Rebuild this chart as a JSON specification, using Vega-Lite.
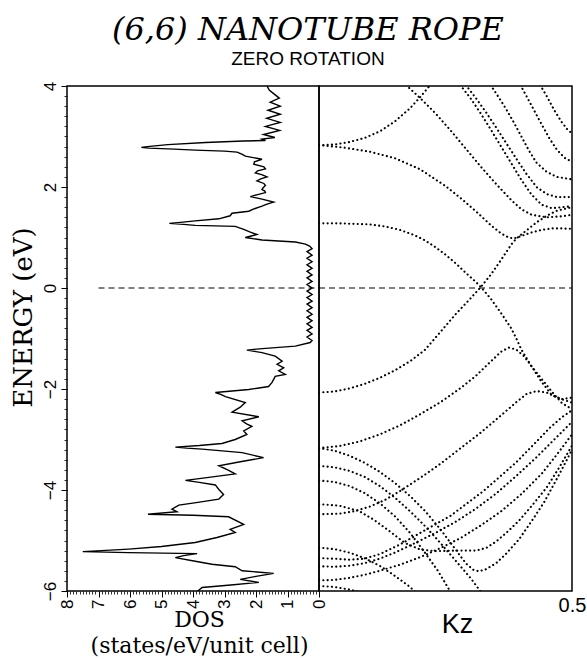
{
  "$schema": "https://vega.github.io/schema/vega-lite/v6.json",
  "background": "white",
  "padding": {"left": 9, "top": 13, "right": 4, "bottom": 2},
  "bounds": "flush",
  "spacing": 0,
  "title": {
    "text": "(6,6) NANOTUBE ROPE",
    "subtitle": "ZERO ROTATION\u00a0\u00a0\u00a0\u00a0\u00a0\u00a0",
    "font": "DejaVu Serif",
    "fontStyle": "italic",
    "fontWeight": "normal",
    "fontSize": 32,
    "color": "black",
    "subtitleFont": "Liberation Sans",
    "subtitleFontSize": 19,
    "subtitleColor": "black",
    "subtitlePadding": 3,
    "anchor": "middle",
    "dx": 10,
    "offset": 11
  },
  "config": {
    "view": {"stroke": "black", "strokeWidth": 1.5},
    "axis": {"grid": false, "domain": false, "tickColor": "black", "labelColor": "black", "titleColor": "black"}
  },
  "datasets": {
    "dos": [
      {"e":4.00,"d":1.65},{"e":3.92,"d":1.58},{"e":3.84,"d":1.42},{"e":3.76,"d":1.26},{"e":3.68,"d":1.55},{"e":3.60,"d":1.23},{"e":3.52,"d":1.62},{"e":3.44,"d":1.23},{"e":3.36,"d":1.66},{"e":3.28,"d":1.23},{"e":3.20,"d":1.70},{"e":3.12,"d":1.25},{"e":3.04,"d":1.76},{"e":2.98,"d":1.40},{"e":2.95,"d":1.81},{"e":2.92,"d":1.70},{"e":2.91,"d":2.4},{"e":2.88,"d":3.6},{"e":2.84,"d":4.8},{"e":2.80,"d":5.45},{"e":2.785,"d":5.64},{"e":2.77,"d":5.4},{"e":2.75,"d":4.6},{"e":2.73,"d":3.93},{"e":2.71,"d":3.0},{"e":2.69,"d":2.6},{"e":2.65,"d":2.45},{"e":2.61,"d":2.34},{"e":2.55,"d":1.81},{"e":2.50,"d":2.05},{"e":2.45,"d":2.07},{"e":2.40,"d":1.75},{"e":2.36,"d":1.70},{"e":2.32,"d":1.95},{"e":2.28,"d":2.02},{"e":2.24,"d":1.8},{"e":2.20,"d":1.65},{"e":2.16,"d":1.85},{"e":2.12,"d":1.97},{"e":2.07,"d":1.75},{"e":2.03,"d":1.70},{"e":1.98,"d":1.78},{"e":1.95,"d":1.81},{"e":1.92,"d":1.72},{"e":1.89,"d":1.70},{"e":1.85,"d":1.95},{"e":1.81,"d":2.18},{"e":1.78,"d":1.95},{"e":1.76,"d":1.81},{"e":1.70,"d":1.44},{"e":1.66,"d":1.65},{"e":1.62,"d":1.81},{"e":1.57,"d":2.05},{"e":1.52,"d":2.23},{"e":1.48,"d":2.76},{"e":1.43,"d":2.82},{"e":1.37,"d":3.18},{"e":1.33,"d":3.93},{"e":1.30,"d":4.4},{"e":1.28,"d":4.75},{"e":1.26,"d":4.3},{"e":1.24,"d":3.93},{"e":1.22,"d":2.66},{"e":1.16,"d":2.39},{"e":1.11,"d":2.2},{"e":1.06,"d":1.97},{"e":1.03,"d":2.15},{"e":1.00,"d":2.34},{"e":0.95,"d":1.81},{"e":0.91,"d":0.75},{"e":0.87,"d":0.43},
      {"e":0.83,"d":0.30},{"e":0.78,"d":0.22},{"e":0.72,"d":0.38},{"e":0.65,"d":0.22},{"e":0.59,"d":0.38},{"e":0.52,"d":0.22},{"e":0.46,"d":0.38},{"e":0.39,"d":0.22},{"e":0.33,"d":0.38},{"e":0.26,"d":0.22},{"e":0.20,"d":0.38},{"e":0.13,"d":0.22},{"e":0.07,"d":0.38},{"e":0.00,"d":0.22},{"e":-0.06,"d":0.38},{"e":-0.13,"d":0.22},{"e":-0.19,"d":0.38},{"e":-0.26,"d":0.22},{"e":-0.32,"d":0.38},{"e":-0.39,"d":0.22},{"e":-0.45,"d":0.38},{"e":-0.52,"d":0.22},{"e":-0.58,"d":0.38},{"e":-0.65,"d":0.22},{"e":-0.71,"d":0.38},{"e":-0.78,"d":0.22},{"e":-0.84,"d":0.38},{"e":-0.91,"d":0.22},{"e":-0.97,"d":0.38},{"e":-1.04,"d":0.22},{"e":-1.08,"d":0.28},
      {"e":-1.15,"d":0.75},{"e":-1.20,"d":1.8},{"e":-1.23,"d":2.29},{"e":-1.26,"d":2.0},{"e":-1.28,"d":1.81},{"e":-1.35,"d":1.39},{"e":-1.45,"d":1.17},{"e":-1.51,"d":1.33},{"e":-1.58,"d":1.12},{"e":-1.64,"d":1.28},{"e":-1.71,"d":1.07},{"e":-1.75,"d":1.39},{"e":-1.87,"d":1.49},{"e":-1.95,"d":1.60},{"e":-2.01,"d":2.23},{"e":-2.07,"d":3.29},{"e":-2.11,"d":3.1},{"e":-2.15,"d":2.97},{"e":-2.27,"d":2.34},{"e":-2.36,"d":2.5},{"e":-2.46,"d":2.76},{"e":-2.55,"d":1.91},{"e":-2.63,"d":2.44},{"e":-2.69,"d":2.3},{"e":-2.74,"d":2.13},{"e":-2.83,"d":2.39},{"e":-2.90,"d":2.29},{"e":-3.00,"d":2.66},{"e":-3.08,"d":3.08},{"e":-3.12,"d":3.8},{"e":-3.15,"d":4.56},{"e":-3.17,"d":4.2},{"e":-3.19,"d":3.71},{"e":-3.26,"d":2.44},{"e":-3.36,"d":1.76},{"e":-3.44,"d":2.5},{"e":-3.52,"d":3.18},{"e":-3.60,"d":2.9},{"e":-3.68,"d":2.66},{"e":-3.75,"d":3.5},{"e":-3.81,"d":4.24},{"e":-3.85,"d":3.8},{"e":-3.90,"d":3.29},{"e":-3.99,"d":3.18},{"e":-4.09,"d":3.03},{"e":-4.18,"d":3.18},{"e":-4.25,"d":3.9},{"e":-4.30,"d":4.45},{"e":-4.38,"d":4.67},{"e":-4.43,"d":4.51},{"e":-4.48,"d":5.43},{"e":-4.50,"d":4.0},{"e":-4.53,"d":2.87},{"e":-4.68,"d":2.39},{"e":-4.78,"d":2.82},{"e":-4.84,"d":2.66},{"e":-4.94,"d":3.24},{"e":-5.04,"d":3.93},{"e":-5.12,"d":5.0},{"e":-5.17,"d":6.04},{"e":-5.22,"d":7.50},{"e":-5.24,"d":6.04},{"e":-5.26,"d":3.87},{"e":-5.30,"d":4.3},{"e":-5.34,"d":4.56},{"e":-5.41,"d":3.93},{"e":-5.47,"d":3.40},{"e":-5.52,"d":2.66},{"e":-5.60,"d":2.44},{"e":-5.65,"d":1.44},{"e":-5.71,"d":2.0},{"e":-5.77,"d":2.50},{"e":-5.83,"d":1.91},{"e":-5.88,"d":2.8},{"e":-5.93,"d":3.71},{"e":-6.0,"d":3.85}
    ],
    "bands": [
      {"b":"U1","k":0,"e":2.83},{"b":"U1","k":0.03,"e":2.84},{"b":"U1","k":0.06,"e":2.89},{"b":"U1","k":0.09,"e":2.97},{"b":"U1","k":0.12,"e":3.1},{"b":"U1","k":0.15,"e":3.3},{"b":"U1","k":0.18,"e":3.56},{"b":"U1","k":0.2,"e":3.78},{"b":"U1","k":0.22,"e":4.02},
      {"b":"D1","k":0,"e":2.83},{"b":"D1","k":0.05,"e":2.78},{"b":"D1","k":0.1,"e":2.7},{"b":"D1","k":0.15,"e":2.57},{"b":"D1","k":0.2,"e":2.35},{"b":"D1","k":0.25,"e":2.02},{"b":"D1","k":0.28,"e":1.78},{"b":"D1","k":0.31,"e":1.52},{"b":"D1","k":0.34,"e":1.24},{"b":"D1","k":0.36,"e":1.08},{"b":"D1","k":0.375,"e":1.0},{"b":"D1","k":0.385,"e":0.98},{"b":"D1","k":0.4,"e":1.03},{"b":"D1","k":0.42,"e":1.1},{"b":"D1","k":0.44,"e":1.15},{"b":"D1","k":0.46,"e":1.18},{"b":"D1","k":0.48,"e":1.18},{"b":"D1","k":0.5,"e":1.17},
      {"b":"F1","k":0,"e":1.28},{"b":"F1","k":0.04,"e":1.28},{"b":"F1","k":0.07,"e":1.27},{"b":"F1","k":0.1,"e":1.26},{"b":"F1","k":0.13,"e":1.22},{"b":"F1","k":0.16,"e":1.15},{"b":"F1","k":0.19,"e":1.04},{"b":"F1","k":0.21,"e":0.94},{"b":"F1","k":0.23,"e":0.81},{"b":"F1","k":0.25,"e":0.66},{"b":"F1","k":0.27,"e":0.49},{"b":"F1","k":0.29,"e":0.3},{"b":"F1","k":0.31,"e":0.12},{"b":"F1","k":0.32,"e":0.02},{"b":"F1","k":0.34,"e":-0.22},{"b":"F1","k":0.36,"e":-0.5},{"b":"F1","k":0.38,"e":-0.8},{"b":"F1","k":0.39,"e":-1.0},{"b":"F1","k":0.4,"e":-1.22},{"b":"F1","k":0.42,"e":-1.55},{"b":"F1","k":0.44,"e":-1.86},{"b":"F1","k":0.46,"e":-2.12},{"b":"F1","k":0.48,"e":-2.2},{"b":"F1","k":0.5,"e":-2.17},
      {"b":"L1","k":0,"e":-2.07},{"b":"L1","k":0.03,"e":-2.05},{"b":"L1","k":0.06,"e":-1.99},{"b":"L1","k":0.09,"e":-1.9},{"b":"L1","k":0.12,"e":-1.78},{"b":"L1","k":0.15,"e":-1.63},{"b":"L1","k":0.18,"e":-1.45},{"b":"L1","k":0.21,"e":-1.22},{"b":"L1","k":0.24,"e":-0.87},{"b":"L1","k":0.27,"e":-0.52},{"b":"L1","k":0.3,"e":-0.2},{"b":"L1","k":0.32,"e":0.02},{"b":"L1","k":0.34,"e":0.27},{"b":"L1","k":0.36,"e":0.56},{"b":"L1","k":0.38,"e":0.86},{"b":"L1","k":0.39,"e":0.98},{"b":"L1","k":0.41,"e":1.14},{"b":"L1","k":0.43,"e":1.3},{"b":"L1","k":0.45,"e":1.43},{"b":"L1","k":0.47,"e":1.53},{"b":"L1","k":0.5,"e":1.6},
      {"b":"S1","k":0.172,"e":4.02},{"b":"S1","k":0.2,"e":3.76},{"b":"S1","k":0.23,"e":3.46},{"b":"S1","k":0.26,"e":3.12},{"b":"S1","k":0.29,"e":2.76},{"b":"S1","k":0.32,"e":2.4},{"b":"S1","k":0.35,"e":2.06},{"b":"S1","k":0.38,"e":1.74},{"b":"S1","k":0.4,"e":1.56},{"b":"S1","k":0.42,"e":1.45},{"b":"S1","k":0.45,"e":1.4},{"b":"S1","k":0.48,"e":1.42},{"b":"S1","k":0.5,"e":1.45},
      {"b":"S2a","k":0.279,"e":4.02},{"b":"S2a","k":0.3,"e":3.75},{"b":"S2a","k":0.32,"e":3.45},{"b":"S2a","k":0.34,"e":3.13},{"b":"S2a","k":0.36,"e":2.8},{"b":"S2a","k":0.38,"e":2.47},{"b":"S2a","k":0.4,"e":2.14},{"b":"S2a","k":0.42,"e":1.85},{"b":"S2a","k":0.44,"e":1.65},{"b":"S2a","k":0.46,"e":1.58},{"b":"S2a","k":0.48,"e":1.6},{"b":"S2a","k":0.5,"e":1.62},
      {"b":"S2b","k":0.29,"e":4.02},{"b":"S2b","k":0.31,"e":3.76},{"b":"S2b","k":0.33,"e":3.48},{"b":"S2b","k":0.35,"e":3.18},{"b":"S2b","k":0.37,"e":2.87},{"b":"S2b","k":0.39,"e":2.56},{"b":"S2b","k":0.41,"e":2.26},{"b":"S2b","k":0.43,"e":2.0},{"b":"S2b","k":0.45,"e":1.86},{"b":"S2b","k":0.47,"e":1.8},{"b":"S2b","k":0.5,"e":1.8},
      {"b":"S3","k":0.339,"e":4.02},{"b":"S3","k":0.355,"e":3.78},{"b":"S3","k":0.37,"e":3.54},{"b":"S3","k":0.385,"e":3.28},{"b":"S3","k":0.4,"e":3.0},{"b":"S3","k":0.415,"e":2.72},{"b":"S3","k":0.43,"e":2.48},{"b":"S3","k":0.45,"e":2.3},{"b":"S3","k":0.47,"e":2.2},{"b":"S3","k":0.5,"e":2.15},
      {"b":"S4","k":0.398,"e":4.02},{"b":"S4","k":0.41,"e":3.8},{"b":"S4","k":0.425,"e":3.52},{"b":"S4","k":0.44,"e":3.24},{"b":"S4","k":0.455,"e":2.97},{"b":"S4","k":0.47,"e":2.74},{"b":"S4","k":0.485,"e":2.58},{"b":"S4","k":0.5,"e":2.5},
      {"b":"S5","k":0.437,"e":4.02},{"b":"S5","k":0.45,"e":3.8},{"b":"S5","k":0.465,"e":3.52},{"b":"S5","k":0.48,"e":3.28},{"b":"S5","k":0.49,"e":3.15},{"b":"S5","k":0.5,"e":3.06},
      {"b":"L2","k":0,"e":-3.17},{"b":"L2","k":0.04,"e":-3.13},{"b":"L2","k":0.08,"e":-3.04},{"b":"L2","k":0.12,"e":-2.9},{"b":"L2","k":0.16,"e":-2.72},{"b":"L2","k":0.2,"e":-2.5},{"b":"L2","k":0.24,"e":-2.26},{"b":"L2","k":0.28,"e":-1.98},{"b":"L2","k":0.31,"e":-1.74},{"b":"L2","k":0.34,"e":-1.45},{"b":"L2","k":0.36,"e":-1.26},{"b":"L2","k":0.375,"e":-1.18},{"b":"L2","k":0.39,"e":-1.22},{"b":"L2","k":0.405,"e":-1.35},{"b":"L2","k":0.42,"e":-1.55},{"b":"L2","k":0.44,"e":-1.8},{"b":"L2","k":0.46,"e":-2.05},{"b":"L2","k":0.48,"e":-2.28},{"b":"L2","k":0.5,"e":-2.4},
      {"b":"L3","k":0,"e":-4.48},{"b":"L3","k":0.04,"e":-4.47},{"b":"L3","k":0.07,"e":-4.42},{"b":"L3","k":0.1,"e":-4.33},{"b":"L3","k":0.13,"e":-4.2},{"b":"L3","k":0.16,"e":-4.02},{"b":"L3","k":0.2,"e":-3.76},{"b":"L3","k":0.24,"e":-3.48},{"b":"L3","k":0.28,"e":-3.17},{"b":"L3","k":0.32,"e":-2.86},{"b":"L3","k":0.36,"e":-2.52},{"b":"L3","k":0.39,"e":-2.26},{"b":"L3","k":0.41,"e":-2.1},{"b":"L3","k":0.43,"e":-2.04},{"b":"L3","k":0.45,"e":-2.07},{"b":"L3","k":0.47,"e":-2.17},{"b":"L3","k":0.5,"e":-2.27},
      {"b":"L4","k":0,"e":-3.17},{"b":"L4","k":0.03,"e":-3.22},{"b":"L4","k":0.06,"e":-3.32},{"b":"L4","k":0.09,"e":-3.46},{"b":"L4","k":0.12,"e":-3.64},{"b":"L4","k":0.15,"e":-3.86},{"b":"L4","k":0.18,"e":-4.12},{"b":"L4","k":0.21,"e":-4.42},{"b":"L4","k":0.24,"e":-4.78},{"b":"L4","k":0.27,"e":-5.18},{"b":"L4","k":0.29,"e":-5.45},{"b":"L4","k":0.305,"e":-5.58},{"b":"L4","k":0.316,"e":-5.61},{"b":"L4","k":0.33,"e":-5.57},{"b":"L4","k":0.35,"e":-5.45},{"b":"L4","k":0.37,"e":-5.26},{"b":"L4","k":0.395,"e":-4.98},{"b":"L4","k":0.42,"e":-4.62},{"b":"L4","k":0.445,"e":-4.24},{"b":"L4","k":0.47,"e":-3.78},{"b":"L4","k":0.49,"e":-3.4},{"b":"L4","k":0.5,"e":-3.2},
      {"b":"L6","k":0,"e":-3.52},{"b":"L6","k":0.03,"e":-3.55},{"b":"L6","k":0.06,"e":-3.62},{"b":"L6","k":0.09,"e":-3.74},{"b":"L6","k":0.12,"e":-3.92},{"b":"L6","k":0.15,"e":-4.15},{"b":"L6","k":0.18,"e":-4.42},{"b":"L6","k":0.21,"e":-4.72},{"b":"L6","k":0.24,"e":-5.05},{"b":"L6","k":0.27,"e":-5.4},{"b":"L6","k":0.3,"e":-5.75},{"b":"L6","k":0.32,"e":-6.02},
      {"b":"L7","k":0,"e":-3.81},{"b":"L7","k":0.03,"e":-3.84},{"b":"L7","k":0.06,"e":-3.92},{"b":"L7","k":0.09,"e":-4.06},{"b":"L7","k":0.12,"e":-4.26},{"b":"L7","k":0.15,"e":-4.52},{"b":"L7","k":0.18,"e":-4.85},{"b":"L7","k":0.21,"e":-5.25},{"b":"L7","k":0.235,"e":-5.6},{"b":"L7","k":0.26,"e":-6.02},
      {"b":"L8","k":0,"e":-4.28},{"b":"L8","k":0.04,"e":-4.31},{"b":"L8","k":0.08,"e":-4.42},{"b":"L8","k":0.11,"e":-4.6},{"b":"L8","k":0.14,"e":-4.82},{"b":"L8","k":0.17,"e":-5.05},{"b":"L8","k":0.2,"e":-5.18},{"b":"L8","k":0.23,"e":-5.21},{"b":"L8","k":0.27,"e":-5.2},{"b":"L8","k":0.31,"e":-5.2},{"b":"L8","k":0.33,"e":-5.15},{"b":"L8","k":0.35,"e":-5.02},{"b":"L8","k":0.37,"e":-4.85},{"b":"L8","k":0.395,"e":-4.61},{"b":"L8","k":0.42,"e":-4.32},{"b":"L8","k":0.45,"e":-3.95},{"b":"L8","k":0.475,"e":-3.55},{"b":"L8","k":0.5,"e":-3.12},
      {"b":"L9","k":0,"e":-5.14},{"b":"L9","k":0.03,"e":-5.17},{"b":"L9","k":0.06,"e":-5.24},{"b":"L9","k":0.09,"e":-5.35},{"b":"L9","k":0.12,"e":-5.5},{"b":"L9","k":0.15,"e":-5.7},{"b":"L9","k":0.18,"e":-5.92},{"b":"L9","k":0.19,"e":-6.02},
      {"b":"L10","k":0,"e":-5.35},{"b":"L10","k":0.03,"e":-5.36},{"b":"L10","k":0.06,"e":-5.38},{"b":"L10","k":0.09,"e":-5.36},{"b":"L10","k":0.12,"e":-5.27},{"b":"L10","k":0.16,"e":-5.08},{"b":"L10","k":0.2,"e":-4.85},{"b":"L10","k":0.26,"e":-4.51},{"b":"L10","k":0.325,"e":-4.02},{"b":"L10","k":0.39,"e":-3.45},{"b":"L10","k":0.43,"e":-3.04},{"b":"L10","k":0.457,"e":-2.76},{"b":"L10","k":0.48,"e":-2.56},{"b":"L10","k":0.5,"e":-2.42},
      {"b":"L11","k":0,"e":-5.51},{"b":"L11","k":0.03,"e":-5.52},{"b":"L11","k":0.06,"e":-5.5},{"b":"L11","k":0.09,"e":-5.45},{"b":"L11","k":0.12,"e":-5.36},{"b":"L11","k":0.15,"e":-5.24},{"b":"L11","k":0.19,"e":-5.05},{"b":"L11","k":0.23,"e":-4.85},{"b":"L11","k":0.27,"e":-4.63},{"b":"L11","k":0.31,"e":-4.37},{"b":"L11","k":0.35,"e":-4.07},{"b":"L11","k":0.39,"e":-3.72},{"b":"L11","k":0.43,"e":-3.35},{"b":"L11","k":0.46,"e":-3.05},{"b":"L11","k":0.48,"e":-2.85},{"b":"L11","k":0.5,"e":-2.65},
      {"b":"L12","k":0,"e":-5.79},{"b":"L12","k":0.03,"e":-5.78},{"b":"L12","k":0.06,"e":-5.74},{"b":"L12","k":0.09,"e":-5.68},{"b":"L12","k":0.12,"e":-5.6},{"b":"L12","k":0.16,"e":-5.48},{"b":"L12","k":0.2,"e":-5.33},{"b":"L12","k":0.24,"e":-5.15},{"b":"L12","k":0.28,"e":-4.95},{"b":"L12","k":0.32,"e":-4.7},{"b":"L12","k":0.36,"e":-4.42},{"b":"L12","k":0.4,"e":-4.08},{"b":"L12","k":0.44,"e":-3.68},{"b":"L12","k":0.47,"e":-3.3},{"b":"L12","k":0.5,"e":-2.9},
      {"b":"L13","k":0,"e":-5.9},{"b":"L13","k":0.03,"e":-5.92},{"b":"L13","k":0.06,"e":-5.97},{"b":"L13","k":0.08,"e":-6.02}
    ]
  },
  "hconcat": [
    {
      "width": 252,
      "height": 505,
      "layer": [
        {
          "data": {"name": "dos"},
          "mark": {"type": "line", "color": "black", "strokeWidth": 1.4, "clip": true},
          "encoding": {
            "x": {"field": "d", "type": "quantitative", "scale": {"domain": [0, 8], "reverse": true, "nice": false, "zero": false},
                  "axis": {"orient": "bottom", "values": [0,1,2,3,4,5,6,7,8], "labelAngle": -90, "labelFont": "Liberation Sans", "labelFontSize": 17, "labelPadding": 2, "tickSize": 6, "tickWidth": 1,
                           "title": ["DOS", "(states/eV/unit cell)"], "titleFont": "DejaVu Serif", "titleFontSize": 22, "titleFontWeight": "normal", "titleLineHeight": 26, "titlePadding": 1, "titleX": 132}},
            "y": {"field": "e", "type": "quantitative", "scale": {"domain": [-6, 4], "nice": false, "zero": false},
                  "axis": {"orient": "left", "values": [-6,-4,-2,0,2,4], "labelAngle": -90, "labelFont": "Liberation Sans", "labelFontSize": 17, "labelPadding": 2, "tickSize": 6, "tickWidth": 1,
                           "title": "ENERGY (eV)", "titleFont": "DejaVu Serif", "titleFontSize": 26, "titleFontWeight": "normal", "titlePadding": 5, "titleY": 231}},
            "order": {"field": "e", "type": "quantitative"}
          }
        },
        {
          "data": {"values": [{"x1": 7, "x2": 0, "y": 0}]},
          "mark": {"type": "rule", "color": "black", "strokeWidth": 1.2, "strokeDash": [6, 4]},
          "encoding": {
            "x": {"field": "x1", "type": "quantitative",
                  "axis": {"orient": "bottom", "tickCount": 80, "labels": false, "title": null, "tickSize": 3, "tickWidth": 0.8}},
            "x2": {"field": "x2"},
            "y": {"field": "y", "type": "quantitative",
                  "axis": {"orient": "left", "tickCount": 50, "labels": false, "title": null, "tickSize": 3, "tickWidth": 0.8}}
          }
        }
      ],
      "resolve": {"axis": {"x": "independent", "y": "independent"}}
    },
    {
      "width": 253,
      "height": 505,
      "layer": [
        {
          "data": {"name": "bands"},
          "mark": {"type": "line", "color": "black", "strokeWidth": 2.1, "strokeDash": [0.1, 4.2], "strokeCap": "round", "clip": true},
          "encoding": {
            "x": {"field": "k", "type": "quantitative", "scale": {"domain": [0, 0.5], "nice": false, "zero": false},
                  "axis": {"orient": "bottom", "values": [0.5], "format": ".1f", "labelAngle": 0, "labelFlush": false, "labelFont": "Liberation Sans", "labelFontSize": 20, "labelPadding": 4, "ticks": false,
                           "title": "Kz", "titleFont": "Liberation Sans", "titleFontSize": 27, "titleFontWeight": "normal", "titleBaseline": "top", "titleY": 20, "titleX": 138}},
            "y": {"field": "e", "type": "quantitative", "scale": {"domain": [-6, 4], "nice": false, "zero": false}, "axis": null},
            "detail": {"field": "b", "type": "nominal"},
            "order": {"field": "k", "type": "quantitative"}
          }
        },
        {
          "data": {"values": [{"x1": 0, "x2": 0.5, "y": 0}]},
          "mark": {"type": "rule", "color": "black", "strokeWidth": 1.2, "strokeDash": [6, 4]},
          "encoding": {
            "x": {"field": "x1", "type": "quantitative"},
            "x2": {"field": "x2"},
            "y": {"field": "y", "type": "quantitative"}
          }
        }
      ]
    }
  ]
}
